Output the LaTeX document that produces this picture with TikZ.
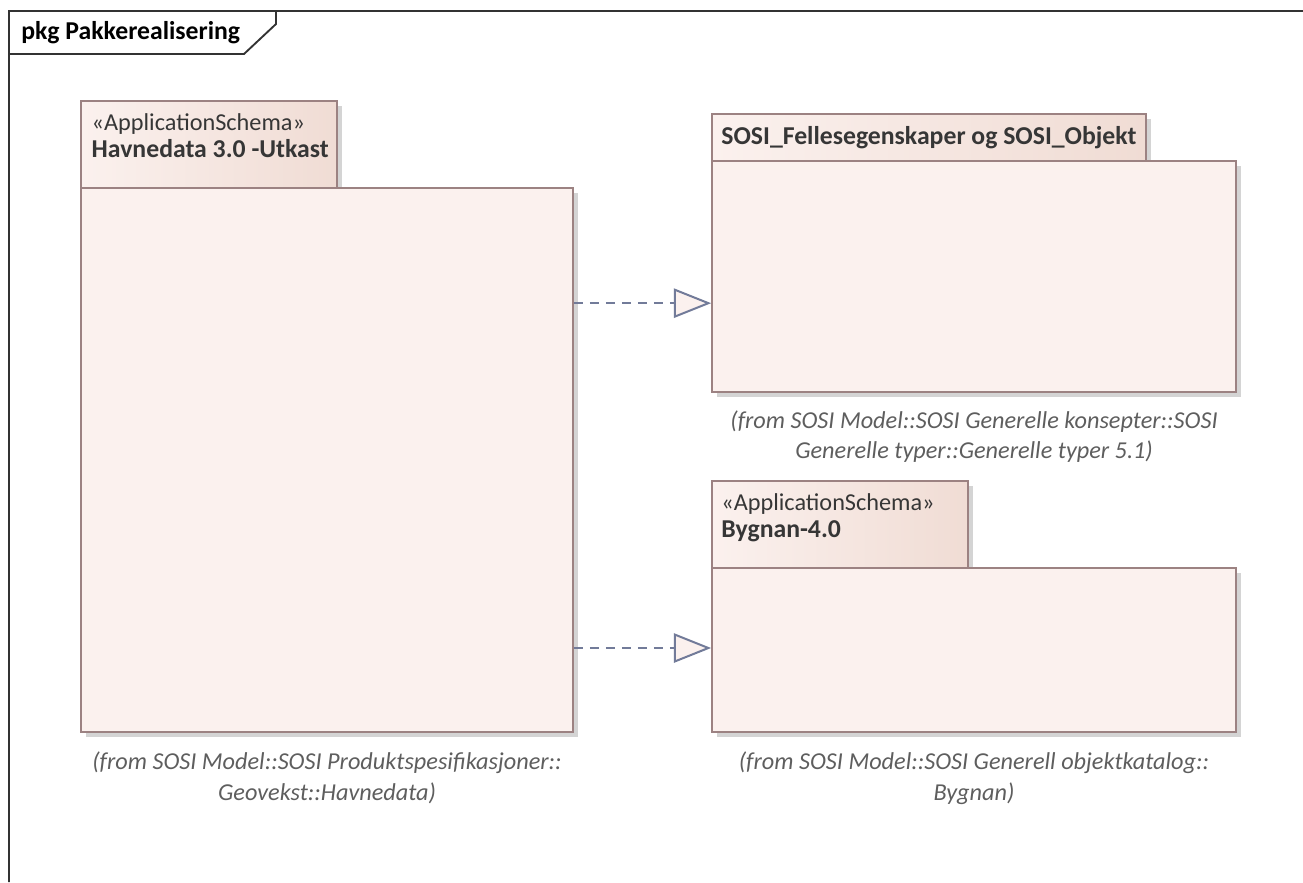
\documentclass[tikz,border=0pt]{standalone}
\usepackage{fontspec}
\setmainfont{Carlito}
\usetikzlibrary{arrows.meta,fit,positioning,shadows}
\definecolor{pkgline}{HTML}{9C8282}
\definecolor{pkgfill}{HTML}{FBF1EE}
\definecolor{tabfill}{HTML}{F0DCD4}
\definecolor{realline}{HTML}{727B99}
\definecolor{pkgtext}{HTML}{363636}
\definecolor{fromtext}{HTML}{5E5E5E}
\newcommand\pkgname[1]{{\fontsize{19.3}{20}\selectfont\bfseries #1}}
\begin{document}
\begin{tikzpicture}[x=0.75pt,y=-0.75pt,font=\fontsize{18.2}{20}\selectfont,
  pkg/.style={draw=pkgline,line width=1.3pt,fill=pkgfill,inner sep=0pt,
    drop shadow={shadow xshift=3.8pt,shadow yshift=-3.8pt,fill=black!17,opacity=1}},
  pkgtab/.style={pkg,left color=pkgfill,right color=tabfill},
  tabtext/.style={anchor=north west,align=left,inner sep=0pt,text=pkgtext},
  fromlbl/.style={align=center,inner sep=0pt,text=fromtext,font=\fontsize{18.2}{23}\selectfont\itshape},
  realize/.style={draw=realline,line width=1.5pt,dash pattern=on 7pt off 5pt,
    -{Triangle[length=28pt,width=22pt,fill=pkgfill]}}]
\useasboundingbox (0,0) rectangle (1303,882);
\draw[line width=1.4pt,black!80] (9,882) -- (9,11) -- (1303,11) (276,11) -- (276,24) -- (244,54) -- (9,54);
\node[anchor=west,inner sep=0pt] (title) at (21,33) {\pkgname{pkg Pakkerealisering}};

\node[pkgtab,fit={(81,101) (337,188)}] (havtab) {};
\node[pkg,fit={(81,188) (573,732)}] (hav) {};
\node[tabtext] (havname) at ([xshift=8.5pt,yshift=-10pt]havtab.north west) {«ApplicationSchema»\\\pkgname{Havnedata 3.0 -Utkast}};
\node[fromlbl,below=14pt of hav.south] (havfrom) {(from SOSI Model::SOSI Produktspesifikasjoner::\\Geovekst::Havnedata)};

\node[pkgtab,fit={(712,114) (1146,161)}] (feltab) {};
\node[pkg,fit={(712,161) (1236,392)}] (fel) {};
\node[tabtext,anchor=west] (felname) at ([xshift=7.5pt]feltab.west) {\pkgname{SOSI\_Fellesegenskaper og SOSI\_Objekt}};
\node[fromlbl,below=13pt of fel.south] (felfrom) {(from SOSI Model::SOSI Generelle konsepter::SOSI\\Generelle typer::Generelle typer 5.1)};

\node[pkgtab,fit={(712,481) (968,568)}] (bygtab) {};
\node[pkg,fit={(712,568) (1236,732)}] (byg) {};
\node[tabtext] (bygname) at ([xshift=7.5pt,yshift=-10pt]bygtab.north west) {«ApplicationSchema»\\\pkgname{Bygnan-4.0}};
\node[fromlbl,below=14pt of byg.south] (bygfrom) {(from SOSI Model::SOSI Generell objektkatalog::\\Bygnan)};

\coordinate (felin) at ([yshift=-20pt]fel.west);
\coordinate (bygin) at ([yshift=1.5pt]byg.west);
\draw[realize] (hav.east |- felin) -- (felin);
\draw[realize] (hav.east |- bygin) -- (bygin);
\end{tikzpicture}
\end{document}
